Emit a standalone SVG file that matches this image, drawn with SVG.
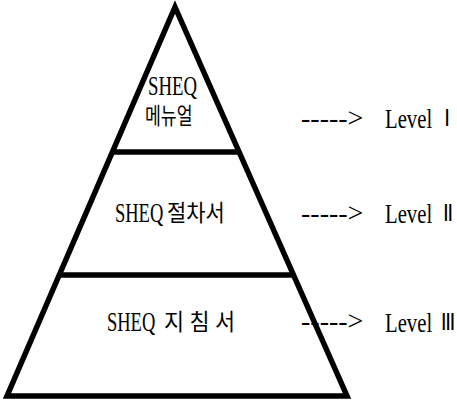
<svg xmlns="http://www.w3.org/2000/svg" width="457" height="404" viewBox="0 0 457 404">
<style>
.t{font-family:"Liberation Serif","Noto Sans CJK KR",serif;font-size:28px;fill:#000}
.k{font-size:23px}
.n{font-family:"Noto Sans CJK KR",sans-serif;font-size:22px;font-weight:bold;text-anchor:middle}
.ln{stroke:#000;stroke-width:5.5;fill:none}
</style>
<rect width="457" height="404" fill="#fff"/>
<g id="pyramid">
<polygon class="ln" points="175,7 7,396 347,396" stroke-linejoin="miter" stroke-miterlimit="20" stroke-width="6"/>
<line class="ln" x1="112" y1="152" x2="239" y2="152"/>
<line class="ln" x1="60" y1="275" x2="293" y2="275"/>
</g>
<g id="level1">
<text class="t" transform="translate(148,95) scale(0.67,1)">SHEQ</text>
<text class="t k" transform="translate(145,124) scale(0.75,1)">메뉴얼</text>
</g>
<g id="level2">
<text class="t" transform="translate(115,222) scale(0.66,1)">SHEQ</text>
<text class="t k" transform="translate(167,221) scale(0.91,1)">절차서</text>
</g>
<g id="level3">
<text class="t" transform="translate(107,331) scale(0.66,1)">SHEQ</text>
<text class="t k" transform="translate(164,330) scale(0.95,1)">지 침 서</text>
</g>
<g id="connectors">
<text class="t" x="301" y="127">-----&gt;</text>
<text class="t" x="301" y="222">-----&gt;</text>
<text class="t" x="301" y="330">-----&gt;</text>
</g>
<g id="labels">
<text class="t" transform="translate(385,128) scale(0.74,1)">Level</text>
<text class="n" transform="translate(447,126) scale(0.6,1)">Ⅰ</text>
<text class="t" transform="translate(385,223) scale(0.74,1)">Level</text>
<text class="n" transform="translate(448,221) scale(0.6,1)">Ⅱ</text>
<text class="t" transform="translate(385,332) scale(0.74,1)">Level</text>
<text class="n" transform="translate(448,330) scale(0.6,1)">Ⅲ</text>
</g>
</svg>
